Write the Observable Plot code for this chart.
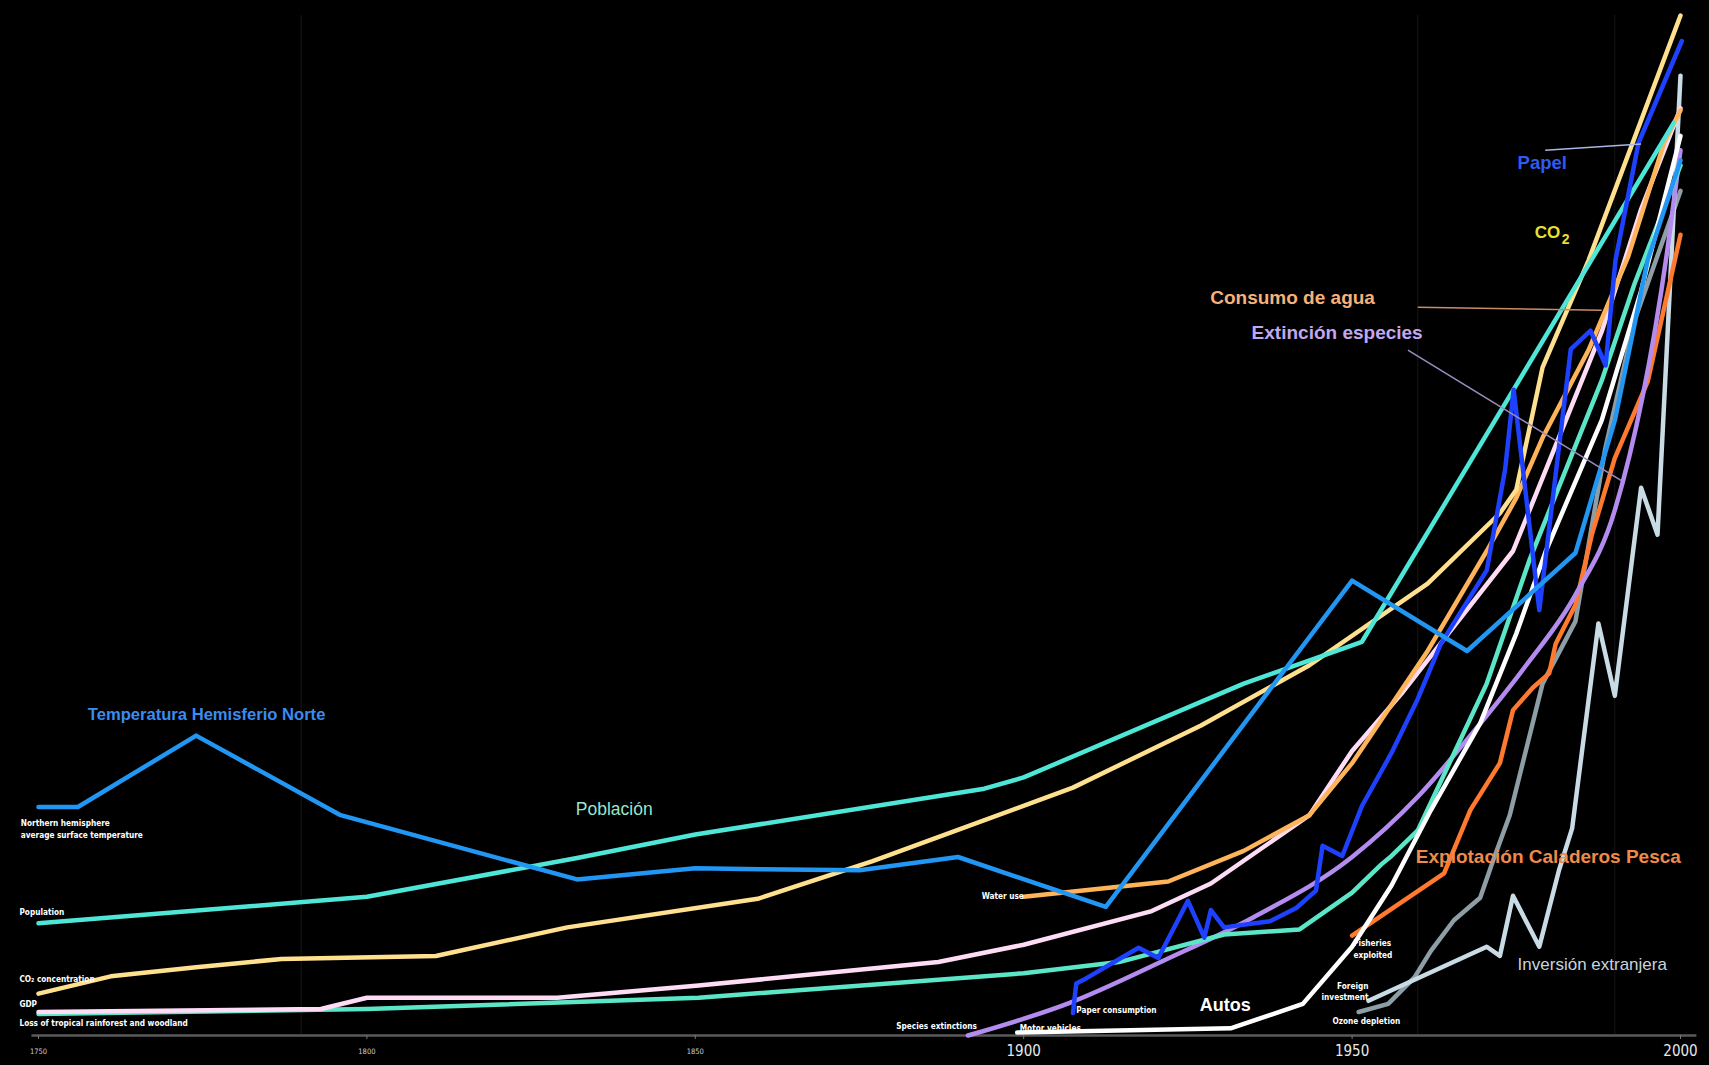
<!DOCTYPE html>
<html>
<head>
<meta charset="utf-8">
<script src="https://cdn.jsdelivr.net/npm/d3@7"></script>
<script src="https://cdn.jsdelivr.net/npm/@observablehq/plot@0.6"></script>
<style>
  html, body { margin: 0; padding: 0; background: #000; }
  #chart svg { display: block; background: #000; }
</style>
</head>
<body>
<div id="chart"></div>
<script>
// ---- Data (year, relative index 0–100; no y axis in the original) ----
const temperature = [[1750,22.4],[1756,22.4],[1774,29.4],[1796,21.6],[1832,15.3],[1850,16.4],[1860,16.3],[1875,16.2],[1890,17.5],[1912.5,12.6],[1950,44.6],[1967.5,37.7],[1984,47.3],[1990,60.3],[1995,76.0],[2000,85.8]];
const population = [[1750,11.0],[1800,13.6],[1832,17.4],[1850,19.7],[1894,24.2],[1900,25.3],[1933.5,34.5],[1951.5,38.6],[1999,89.5]];
const co2 = [[1750,4.1],[1761,5.8],[1774,6.7],[1787,7.5],[1810.5,7.8],[1830.5,10.6],[1859.5,13.4],[1877,17.1],[1907.5,24.3],[1927,30.4],[1943.5,36.3],[1961.5,44.3],[1972.5,51.2],[1975,53.5],[1979,65.5],[1986,76.0],[2000,100]];
const gdp = [[1750,2.3],[1793,2.6],[1800,3.7],[1829,3.7],[1850.5,4.9],[1887,7.2],[1900,8.9],[1919.5,12.2],[1928.5,14.9],[1943.5,21.6],[1950,27.9],[1957.5,33.5],[1965,39.7],[1974.5,47.5],[1988,69],[1994,81],[2000,90.9]];
const rainforest = [[1750,2.1],[1800,2.6],[1850.5,3.7],[1900,6.1],[1914.5,7.2],[1930.5,9.9],[1942,10.4],[1950,14.0],[1954.5,16.8],[1956,17.6],[1960,20.1],[1970.5,34.5],[1977,46.6],[1988,64.2],[1993,73.7],[2000,85.3]];
const motorVehicles = [[1899,0.3],[1931.5,0.7],[1942.5,3.1],[1950,8.7],[1956,14.7],[1962,22.1],[1969.5,30.6],[1975,39.4],[1979.5,47.5],[1988,60.3],[1994,73.0],[2000,88.2]];
const speciesExtinctions = [[1891.5,0],[1907,3.2],[1921.5,7.4],[1935,11.6],[1950,17.5],[1960,23.4],[1968,29.4],[1976.5,36.3],[1984,43.2],[1990,51.5],[1998,77],[2000,86.8]];
const paperConsumption = [[1907.5,2.2],[1908,5.1],[1909.5,5.6],[1917.5,8.6],[1920.5,7.6],[1925,13.2],[1927.5,9.6],[1928.5,12.3],[1930.5,10.6],[1937.5,11.2],[1941.5,12.5],[1944.5,14.2],[1945.5,18.6],[1948.5,17.6],[1951.5,22.5],[1956,27.7],[1960,33.0],[1963.5,38.4],[1970.5,45.6],[1973.3,55.5],[1974.6,63.3],[1978.5,41.7],[1983.3,67.3],[1986.3,69.1],[1988.6,65.7],[1990.1,76.0],[1993.6,87.5],[2000.2,97.5]];
const waterUse = [[1900,13.6],[1922,15.1],[1933.5,18.1],[1943.5,21.6],[1950,26.7],[1961.5,37.7],[1970.5,47.5],[1975,52.7],[1979,58.6],[1986,67.2],[1992,76.3],[1997.5,87.5],[2000,90.7]];
const fisheries = [[1950,9.8],[1964,15.9],[1968,22.1],[1972.5,26.7],[1974.5,31.9],[1977.5,34.1],[1980,35.5],[1981,38.4],[1984,42.2],[1986.5,49.1],[1990,56.6],[1995,64.1],[2000,78.5]];
const foreignInvestment = [[1952.5,3.4],[1970.5,8.7],[1972.5,7.8],[1974.5,13.7],[1978.5,8.7],[1981.5,16.2],[1983.5,20.3],[1987.5,40.4],[1990,33.3],[1994,53.7],[1996.5,49.1],[2000,94.1]];
const ozoneDepletion = [[1951,2.3],[1955.5,3.1],[1959.5,5.7],[1962,8.3],[1965.5,11.3],[1969.5,13.5],[1971.5,17.2],[1974,21.6],[1979,34.5],[1984,40.6],[1988.5,57.4],[1993,70.1],[2000,82.8]];

const smallTicks = [1750, 1800, 1850];
const largeTicks = [1900, 1950, 2000];

// series: name, data, colour (drawing order = bottom to top)
const series = [
  {name: "Ozone depletion", data: ozoneDepletion, color: "#8e9ea6", curve: "linear"},
  {name: "Foreign investment", data: foreignInvestment, color: "#c9dbe4", curve: "linear"},
  {name: "Fisheries exploited", data: fisheries, color: "#ff7a2e", curve: "linear"},
  {name: "Species extinctions", data: speciesExtinctions, color: "#b48cf0", curve: "monotone-x"},
  {name: "Loss of tropical rainforest", data: rainforest, color: "#5be6c8", curve: "linear"},
  {name: "Motor vehicles", data: motorVehicles, color: "#ffffff", curve: "linear"},
  {name: "GDP", data: gdp, color: "#ffdcf6", curve: "linear"},
  {name: "Water use", data: waterUse, color: "#ffb45a", curve: "linear"},
  {name: "CO2 concentration", data: co2, color: "#ffe08f", curve: "linear"},
  {name: "Population", data: population, color: "#4ee6d6", curve: "linear"},
  {name: "Paper consumption", data: paperConsumption, color: "#1e40ff", curve: "linear"},
  {name: "Temperature", data: temperature, color: "#2196f3", curve: "linear"}
];

// Spanish overlay labels [year, value, text, colour, size, weight]
const bigLabels = [
  [1757.5, 31.5, "Temperatura Hemisferio Norte", "#3a8cf0", 16.6, "bold"],
  [1831.8, 22.2, "Población", "#96e6cc", 17.5, "normal"],
  [1975.2, 85.5, "Papel", "#2e5cf0", 18.5, "bold"],
  [1928.4, 72.3, "Consumo de agua", "#f4b27a", 19, "bold"],
  [1934.7, 68.9, "Extinción especies", "#c0a8f0", 19, "bold"],
  [1959.7, 17.5, "Explotación Caladeros Pesca", "#f08a4a", 19, "bold"],
  [1975.2, 7.0, "Inversión extranjera", "#c8d4dc", 17, "normal"],
  [1926.8, 3.0, "Autos", "#ffffff", 18, "bold"]
];
const co2Label = [1977.8, 78.7];

// small English source labels [year, value, text, anchor]
const smallLabels = [
  [1747.3, 20.8, "Northern hemisphere", "start"],
  [1747.3, 19.6, "average surface temperature", "start"],
  [1747.1, 12.1, "Population", "start"],
  [1747.1, 5.5, "CO\u2082 concentration", "start"],
  [1747.1, 3.1, "GDP", "start"],
  [1747.1, 1.2, "Loss of tropical rainforest and woodland", "start"],
  [1893.6, 13.6, "Water use", "start"],
  [1880.6, 0.9, "Species extinctions", "start"],
  [1899.4, 0.7, "Motor vehicles", "start"],
  [1908.0, 2.5, "Paper consumption", "start"],
  [1950.2, 9.0, "Fisheries", "start"],
  [1950.2, 7.9, "exploited", "start"],
  [1952.5, 4.8, "Foreign", "end"],
  [1952.5, 3.7, "investment", "end"],
  [1947.0, 1.4, "Ozone depletion", "start"]
];

// leader lines from labels to curves
const leaders = [
  {x1: 1979.4, y1: 86.8, x2: 1994.0, y2: 87.4, color: "#a9b6e6"},
  {x1: 1960.0, y1: 71.4, x2: 1988.0, y2: 71.1, color: "#c98a6a"},
  {x1: 1958.5, y1: 67.2, x2: 1991.0, y2: 54.4, color: "#9c8cc0"}
];
const faintGrid = [1790, 1960, 1990];

// ---- Build ----
const smallFont = "'Liberation Sans Narrow','DejaVu Sans Condensed','Roboto Condensed',sans-serif";
const bigFont = "'Liberation Sans',Arial,Helvetica,sans-serif";

const marks = [
  Plot.ruleX(faintGrid, {x: d => d, y1: 0, y2: 100, stroke: "#161616", strokeWidth: 1}),
  Plot.ruleY([0], {y: d => d, x1: 1749, x2: 2002.5, stroke: "#5a5a5a", strokeWidth: 2.5}),
  Plot.ruleX([...smallTicks, ...largeTicks], {x: d => d, y1: 0, y2: 0, insetBottom: -4, stroke: "#777", strokeWidth: 1}),
  ...series.map(s => Plot.line(s.data, {
    x: d => d[0], y: d => d[1], stroke: s.color, strokeWidth: 4.5,
    curve: s.curve, strokeLinejoin: "round", strokeLinecap: "round"
  })),
  Plot.link(leaders, {x1: "x1", y1: "y1", x2: "x2", y2: "y2", stroke: d => d.color, strokeWidth: 1.5}),
  Plot.text(smallTicks, {x: d => d, y: () => 0, dy: 16, text: d => String(d), fill: "#cfcfcf", fontSize: 7.5, fontFamily: smallFont}),
  Plot.text(largeTicks, {x: d => d, y: () => 0, dy: 16, text: d => String(d), fill: "#e8e8e8", fontSize: 15, fontFamily: smallFont}),
  ...smallLabels.map(([x, y, t, a]) => Plot.text([t], {
    x: () => x, y: () => y, text: d => d, textAnchor: a, fill: "#ffffff",
    fontSize: 8.2, fontWeight: "bold", fontFamily: smallFont
  })),
  ...bigLabels.map(([x, y, t, c, s, w]) => Plot.text([t], {
    x: () => x, y: () => y, text: d => d, textAnchor: "start", fill: c,
    fontSize: s, fontWeight: w, fontFamily: bigFont
  })),
  Plot.text(["CO"], {x: () => co2Label[0], y: () => co2Label[1], text: d => d, textAnchor: "start", fill: "#e8e030", fontSize: 17, fontWeight: "bold", fontFamily: bigFont}),
  Plot.text(["2"], {x: () => co2Label[0], y: () => co2Label[1], dx: 27, dy: 7, text: d => d, textAnchor: "start", fill: "#e8e030", fontSize: 14, fontWeight: "bold", fontFamily: bigFont})
];

const chart = Plot.plot({
  width: 1709,
  height: 1065,
  marginLeft: 38,
  marginRight: 29,
  marginTop: 15,
  marginBottom: 30,
  x: {type: "linear", domain: [1750, 2000], axis: null},
  y: {type: "linear", domain: [0, 100], axis: null},
  style: {background: "#000", color: "#fff", overflow: "visible"},
  marks
});
document.getElementById("chart").appendChild(chart);
</script>
</body>
</html>
